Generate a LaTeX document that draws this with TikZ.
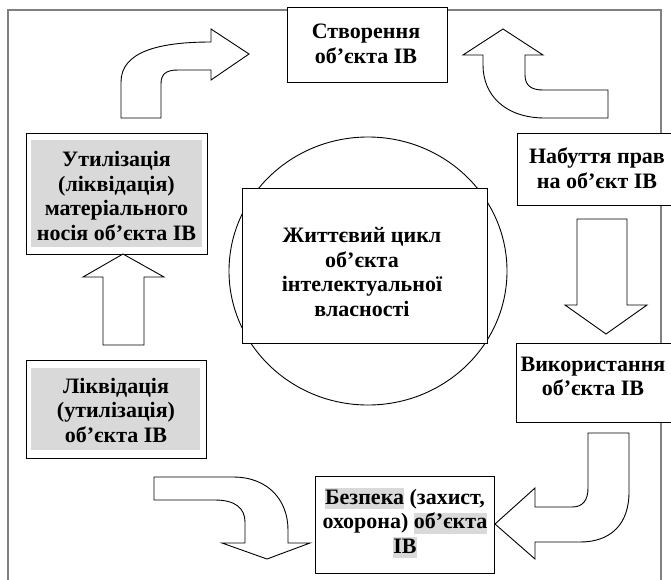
\documentclass[tikz,border=0pt]{standalone}
\usepackage{fontspec}
\setmainfont{Liberation Serif}
\usetikzlibrary{positioning}
\definecolor{framegray}{RGB}{128,128,128}
\definecolor{shadegray}{RGB}{217,217,217}
\tikzset{
  basebox/.style={rectangle,draw=black,line width=0.9pt,fill=white,inner sep=0pt},
  shadebox/.style={rectangle,fill=shadegray,inner sep=0pt},
  stagetext/.style={align=center,font=\fontsize{22}{24.5}\selectfont\bfseries,inner sep=0pt},
  flowarrow/.style={draw=black,line width=0.9pt,fill=white,line join=miter},
  frameline/.style={draw=framegray,line width=1.6pt}
}
\newcommand{\hlword}[1]{{\setlength{\fboxsep}{0pt}\colorbox{shadegray}{\rule[-5pt]{0pt}{21pt}#1}}}

\begin{document}
\begin{tikzpicture}[x=1pt,y=-1pt]
  \useasboundingbox (0,0) rectangle (671,579);
  \clip (0,0) rectangle (671,579);

  %% Outer frame
  \draw[frameline] (8,10) rectangle (661,600);

  %% Central circle and box
  \draw[line width=0.9pt] (368,271) ellipse [x radius=139,y radius=134];
  \node[basebox,minimum width=245pt,minimum height=155pt] (core) at (364.5,265.5) {};
  \node[stagetext] (coretxt) at (362,272)
    {Життєвий цикл\\об’єкта\\інтелектуальної\\власності};

  %% Stages
  \node[basebox,minimum width=160pt,minimum height=75pt] (create) at (367,44.5) {};
  \node[stagetext] (createtxt) at (366,44) {Створення\\об’єкта ІВ};

  \node[basebox,minimum width=170pt,minimum height=72pt] (rights) at (602,169) {};
  \node[stagetext] (rightstxt) at (597,168) {Набуття прав\\на об’єкт ІВ};

  \node[basebox,minimum width=170pt,minimum height=79pt] (use) at (601,382.5) {};
  \node[stagetext] (usetxt) at (593,376.5) {Використання\\об’єкта ІВ};

  \node[basebox,minimum width=179pt,minimum height=97pt] (secure) at (404.5,524.5) {};
  \node[stagetext] (securetxt) at (405,523)
    {\hlword{Безпека} (захист,\\охорона) \hlword{об’єкта}\\\hlword{ІВ}};

  \node[basebox,minimum width=180pt,minimum height=98pt] (liquid) at (116,409) {};
  \node[shadebox,minimum width=169pt,minimum height=82pt] (liquidbg) at (115.5,409) {};
  \node[stagetext] (liquidtxt) at (116,410) {Ліквідація\\(утилізація)\\об’єкта ІВ};

  \node[basebox,minimum width=181pt,minimum height=121pt] (recycle) at (116.5,193.5) {};
  \node[shadebox,minimum width=171pt,minimum height=107pt] (recyclebg) at (116.5,193.5) {};
  \node[stagetext] (recycletxt) at (116.5,196)
    {Утилізація\\(ліквідація)\\матеріального\\носія об’єкта ІВ};

  %% Block arrows
  \draw[flowarrow] (121,118) -- (121,82) .. controls (121,52) and (158,42) .. (211,42)
    -- (211,29) -- (249,54) -- (211,80) -- (211,70) -- (178,70)
    .. controls (166,70) and (161,74) .. (161,84) -- (161,118) -- cycle;
  \draw[flowarrow] (608,118) -- (545,118) .. controls (505,118) and (483,95) .. (483,65)
    -- (483,55) -- (463,55) -- (503,29) -- (543,55) -- (525,55) -- (525,75)
    .. controls (525,86) and (532,90) .. (543,90) -- (608,90) -- cycle;
  \draw[flowarrow] (577,219) -- (627,219) -- (627,305) -- (647,305) -- (606,334)
    -- (565,305) -- (577,305) -- cycle;
  \draw[flowarrow] (629,433) -- (629,492) .. controls (629,525) and (610,542) .. (580,542)
    -- (535,542) -- (535,559) -- (495,524) -- (535,488) -- (535,507) -- (572,507)
    .. controls (583,507) and (588,500) .. (588,488) -- (588,433) -- cycle;
  \draw[flowarrow] (154,477) -- (233,477) .. controls (268,477) and (288,500) .. (288,530)
    -- (288,543) -- (310,543) -- (267,559) -- (222,543) -- (245,543) -- (245,522)
    .. controls (245,508) and (235,500) .. (215,500) -- (154,500) -- cycle;
  \draw[flowarrow] (103,345) -- (103,277) -- (83,277) -- (123,254) -- (164,277)
    -- (144,277) -- (144,345) -- cycle;
\end{tikzpicture}
\end{document}
